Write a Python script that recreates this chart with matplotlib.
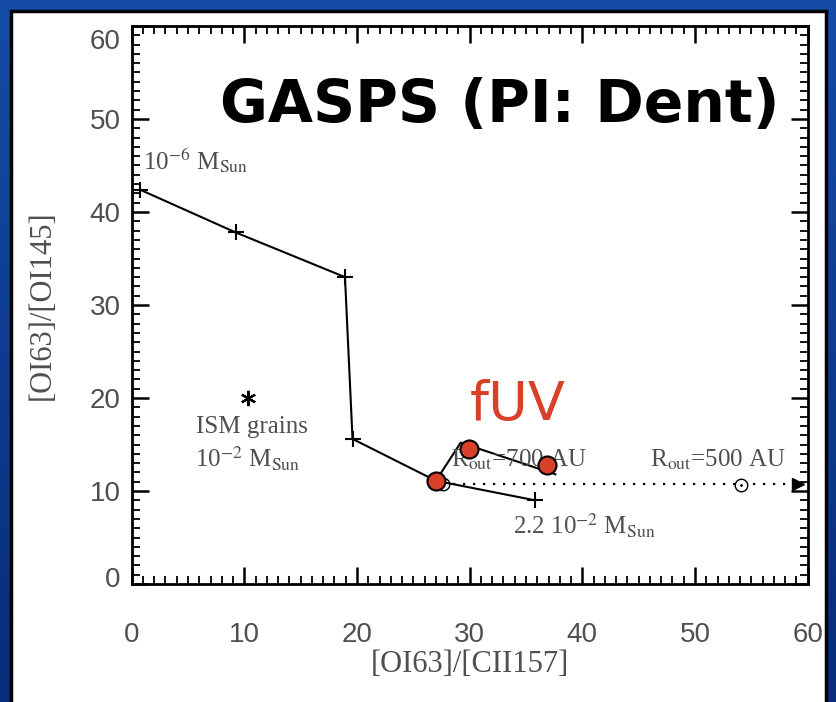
import matplotlib
matplotlib.use("Agg")
import matplotlib.pyplot as plt
import numpy as np
from matplotlib.patches import Rectangle
from matplotlib.transforms import ScaledTranslation

plt.rcParams['mathtext.fontset'] = 'stix'

# ---- data ----
mass_x = [0.74, 9.23, 18.93, 19.6, 27.0, 35.8]
mass_y = [42.4, 37.8, 33.0, 15.6, 11.1, 9.0]

fuv_line_x = [27.0, 29.2, 37.6]
fuv_line_y = [11.1, 15.2, 11.8]
fuv_pts_x = [27.0, 29.9, 36.9]
fuv_pts_y = [11.1, 14.5, 12.8]

rout_x = [27.6, 59.1]
rout_y = [10.7, 10.7]
rout500_x = [54.1]
rout500_y = [10.65]

ism_x = [10.3]
ism_y = [20.0]

xticks = [0, 10, 20, 30, 40, 50, 60]
yticks = [0, 10, 20, 30, 40, 50, 60]

W, H = 837, 702
fig = plt.figure(figsize=(W / 100, H / 100), dpi=100)

# blue gradient background
bg = fig.add_axes([0, 0, 1, 1], zorder=-10)
grad = np.linspace(0, 1, 256).reshape(-1, 1)
top = np.array([0x14, 0x4c, 0xa6]) / 255
bot = np.array([0x08, 0x2c, 0x78]) / 255
img = top[None, None, :] * (1 - grad[:, :, None]) + bot[None, None, :] * grad[:, :, None]
bg.imshow(img, aspect='auto', extent=[0, 1, 0, 1], origin='upper')
bg.set_xlim(0, 1); bg.set_ylim(0, 1)
bg.axis('off')
# white panel with black border
bg.add_patch(Rectangle((11 / W, -0.02), (826 - 11) / W, 1 - 11 / H + 0.02,
                       facecolor='white', edgecolor='black', linewidth=2.5,
                       transform=bg.transAxes, zorder=2))

ax = fig.add_axes([131.7 / W, 1 - 584 / H, (807.7 - 131.7) / W, (584 - 26) / H])
ax.set_xlim(0, 60)
ax.set_ylim(0, 60)

line_kw = dict(color='black', lw=1.5)
ax.plot(mass_x, mass_y, marker='+', ms=12, mew=1.5, zorder=3, **line_kw)
ax.plot(fuv_line_x, fuv_line_y, zorder=3, **line_kw)
ax.plot(rout_x, rout_y, color='black', lw=1.6, linestyle=(0, (1, 3.5)), zorder=3)
ax.plot([rout_x[0]], [rout_y[0]], marker='o', ms=9, mfc='none', mec='black', mew=1, zorder=3)
ax.plot(rout500_x, rout500_y, marker='o', ms=9, mfc='white', mec='black', mew=1, zorder=4)
ax.plot(rout500_x, rout500_y, marker='.', ms=2, color='black', zorder=5)
ax.plot([rout_x[1]], [rout_y[1]], marker='>', ms=9, color='black', zorder=4)
ax.plot(ism_x, ism_y, marker=(6, 2, 0), ms=11, mew=1.6, color='black', zorder=3, linestyle='none')
ax.plot(fuv_pts_x, fuv_pts_y, marker='o', linestyle='none', ms=13, mfc='#d8402a',
        mec='black', mew=1.5, zorder=6)

grey = '#4f4f4f'
serif = ['Liberation Serif', 'DejaVu Serif']
tkw = dict(color=grey, family=serif, fontsize=18)
ax.text(1.0, 45.5, r'10$^{-6}$ M$_{\mathrm{Sun}}$', ha='left', va='center', **tkw)
ax.text(10.7, 16.9, 'ISM grains', ha='center', va='center', **tkw)
ax.text(10.3, 13.4, r'10$^{-2}$ M$_{\mathrm{Sun}}$', ha='center', va='center', **tkw)
ax.text(28.3, 13.4, r'R$_{\mathrm{out}}$=700 AU', ha='left', va='center', **tkw)
ax.text(46.0, 13.4, r'R$_{\mathrm{out}}$=500 AU', ha='left', va='center', **tkw)
ax.text(33.8, 6.2, r'2.2 10$^{-2}$ M$_{\mathrm{Sun}}$', ha='left', va='center', **tkw)

ax.text(34.3, 19.3, 'fUV', color='#d8402a', fontsize=39, family='DejaVu Sans',
        ha='center', va='center', zorder=7)
ax.text(32.7, 51.4, 'GASPS (PI: Dent)', color='black', fontsize=42, family='DejaVu Sans',
        fontweight='bold', ha='center', va='center', zorder=7)

# axes styling
for s in ax.spines.values():
    s.set_linewidth(2)
    s.set_color('black')
ax.set_xticks(xticks)
ax.set_yticks(yticks)
ax.set_xticks(np.arange(0, 61, 1), minor=True)
ax.set_yticks(np.arange(0, 61, 1), minor=True)
ax.tick_params(which='both', direction='in', top=True, right=True, colors='black')
ax.tick_params(which='major', length=12, width=1.8)
ax.tick_params(which='minor', length=6, width=1.3)
ax.tick_params(axis='x', which='major', pad=27, labelsize=20, labelcolor=grey)
ax.tick_params(axis='y', which='major', pad=8, labelsize=20, labelcolor=grey)
for lab in ax.get_xticklabels() + ax.get_yticklabels():
    lab.set_family(['Liberation Sans', 'DejaVu Sans'])

ax.set_xlabel('[OI63]/[CII157]', family=serif, fontsize=22, color=grey, labelpad=2)
ax.set_ylabel('[OI63]/[OI145]', family=serif, fontsize=22, color=grey, labelpad=24)

# shift outermost y labels inward as in the reference
yt = ax.yaxis.get_major_ticks()
yt[0].label1.set_transform(yt[0].label1.get_transform() + ScaledTranslation(0, 7 / 100, fig.dpi_scale_trans))
yt[-1].label1.set_transform(yt[-1].label1.get_transform() + ScaledTranslation(0, -13 / 100, fig.dpi_scale_trans))

fig.savefig('out.png', dpi=100)
